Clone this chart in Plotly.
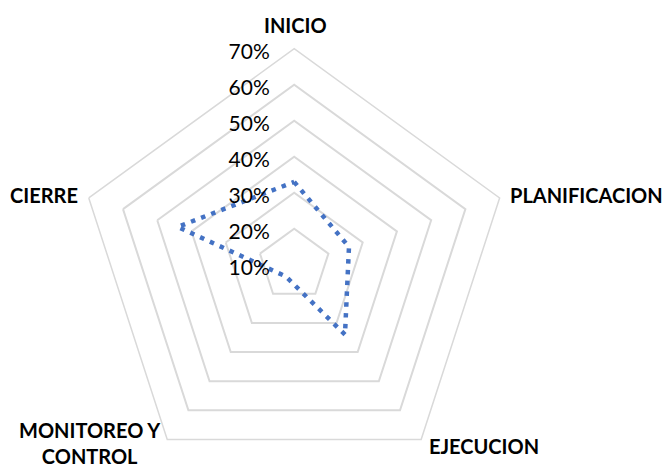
import plotly.graph_objects as go

# Project phases and the share recorded for each one
categories = ["INICIO", "PLANIFICACION", "EJECUCION", "MONITOREO Y<br>CONTROL", "CIERRE"]
values = [0.33, 0.26, 0.34, 0.14, 0.44]

# Radial scale
radial_ticks = [0.1, 0.2, 0.3, 0.4, 0.5, 0.6, 0.7]
radial_tick_labels = ["10%", "20%", "30%", "40%", "50%", "60%", "70%"]

W, H = 664, 484
cx, cy, R = 294.2, 264.7, 216  # centre and outer radius of the radar, px

# where each phase name sits (px from top-left) and how it is anchored
label_pos = [(295, 25), (508, 195), (427, 446), (90, 443), (80, 195)]
label_anchor = [("center", "middle"), ("left", "middle"), ("left", "middle"),
                ("center", "middle"), ("right", "middle")]

fig = go.Figure(
    go.Scatterpolar(
        r=values + values[:1],
        theta=categories + categories[:1],
        mode="lines",
        line=dict(color="#4472C4", width=4.5, dash="4.5px,6.3px"),
        hoverinfo="skip",
    )
)

for name, (px, py), (xa, ya) in zip(categories, label_pos, label_anchor):
    fig.add_annotation(
        text=name, x=px / W, y=(H - py) / H, xref="paper", yref="paper",
        xanchor=xa, yanchor=ya, align="center", showarrow=False,
        font=dict(family="Lato", size=20, color="#000000", weight="bold"),
    )

fig.update_layout(
    width=W,
    height=H,
    margin=dict(l=0, r=0, t=0, b=0),
    paper_bgcolor="white",
    showlegend=False,
    polar=dict(
        domain=dict(x=[(cx - R) / W, (cx + R) / W], y=[(H - cy - R) / H, (H - cy + R) / H]),
        bgcolor="white",
        gridshape="linear",
        radialaxis=dict(
            range=[radial_ticks[0], radial_ticks[-1]],
            tickvals=radial_ticks,
            ticktext=radial_tick_labels,
            angle=90,
            side="counterclockwise",
            showline=False,
            gridcolor="#D9D9D9",
            gridwidth=1.5,
            ticks="outside",
            ticklen=5,
            tickcolor="rgba(0,0,0,0)",
            tickfont=dict(family="Lato", size=21, color="#000000"),
        ),
        angularaxis=dict(
            direction="clockwise",
            rotation=90,
            showgrid=False,
            showline=True,
            linecolor="#D9D9D9",
            linewidth=1.5,
            ticks="",
            showticklabels=False,
        ),
    ),
)

# keep the page to the window size
page_js = (
    "document.documentElement.style.overflow='hidden';"
    "document.body.style.margin='0';"
    "document.body.style.overflow='hidden';"
    "document.body.style.height='468px';"
)

fig.write_html("out.html", post_script=page_js)
